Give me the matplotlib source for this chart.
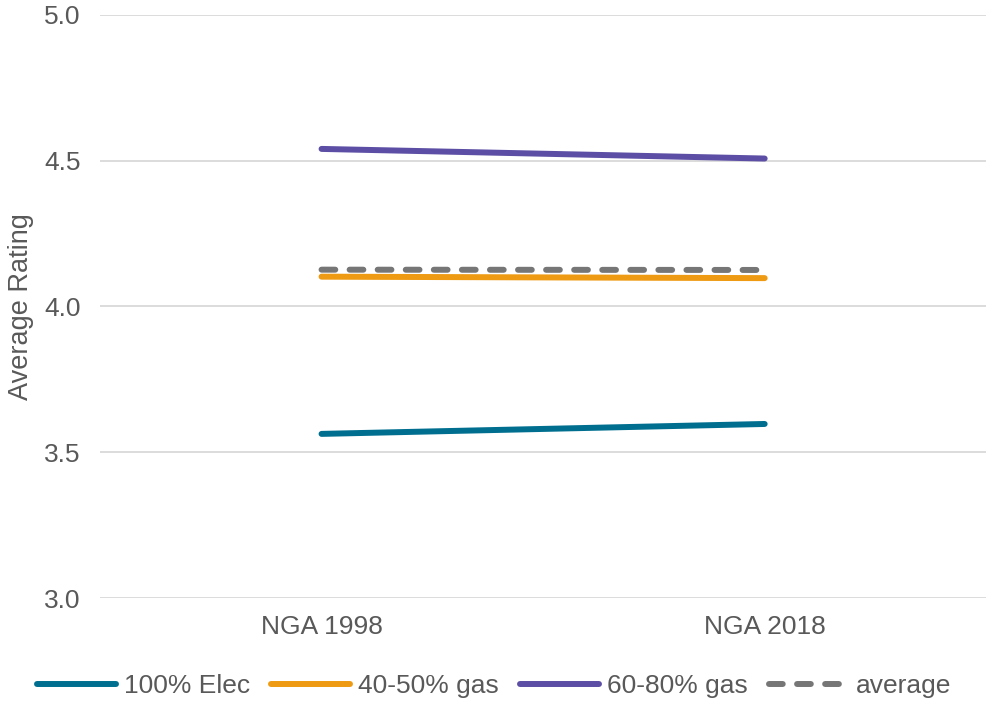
import matplotlib.pyplot as plt

plt.rcParams['font.family'] = ['Liberation Sans', 'DejaVu Sans']

categories = ['NGA 1998', 'NGA 2018']
elec_100 = [3.563, 3.597]
gas_40_50 = [4.102, 4.097]
gas_60_80 = [4.540, 4.507]
average = [4.126, 4.125]

fig = plt.figure(figsize=(9.88, 7.02), dpi=100)
ax = fig.add_axes([0.1012, 0.148, 0.897, 0.831])

x = range(len(categories))
lw = 4.3
ax.plot(x, elec_100, color='#006f8f', lw=lw, solid_capstyle='round', label='100% Elec')
ax.plot(x, gas_40_50, color='#ee9a13', lw=lw, solid_capstyle='round', label='40-50% gas')
ax.plot(x, gas_60_80, color='#5b4ea4', lw=lw, solid_capstyle='round', label='60-80% gas')
ax.plot(x, average, color='#767676', lw=lw, ls=(0, (2.3, 2.4)),
        dash_capstyle='round', label='average')

ax.set_xlim(-0.5, 1.5)
ax.set_ylim(3.0, 5.0)
ax.set_yticks([3.0, 3.5, 4.0, 4.5, 5.0])
ax.set_yticklabels(['3.0', '3.5', '4.0', '4.5', '5.0'])
ax.set_xticks(list(x))
ax.set_xticklabels(categories)
ax.grid(axis='y', color='#d9d9d9', lw=1.3)
ax.set_axisbelow(True)
for s in ax.spines.values():
    s.set_visible(False)
ax.tick_params(length=0, labelsize=19, colors='#595959')
ax.tick_params(axis='x', pad=12)
ax.tick_params(axis='y', pad=14)
ax.set_ylabel('Average Rating', fontsize=19.5, color='#595959', labelpad=7)

fig.legend(loc='center', bbox_to_anchor=(0.5, 0.023), ncol=4, frameon=False,
           fontsize=19, labelcolor='#595959', handlelength=3.0, handletextpad=0.3,
           columnspacing=0.8)

fig.savefig('out.png', dpi=100)
